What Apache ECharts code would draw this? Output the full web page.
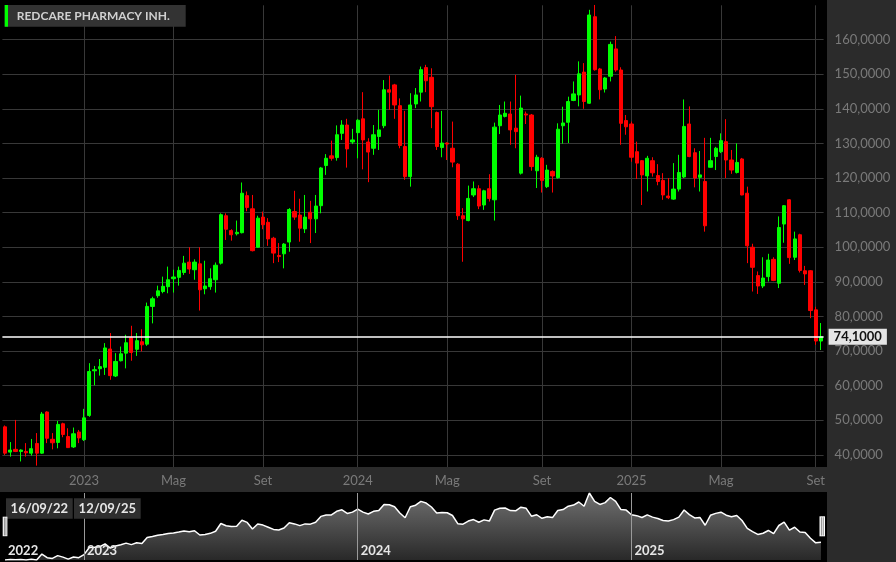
<!DOCTYPE html>
<html>
<head>
<meta charset="utf-8">
<script src="https://cdn.jsdelivr.net/npm/echarts@6/dist/echarts.min.js"></script>
<style>
  html, body { margin: 0; padding: 0; background: #000; }
  #chart { width: 896px; height: 562px; }
</style>
</head>
<body>
<div id="chart"></div>
<script>
// weekly candles, week ending friday
var firstFriday = Date.UTC(2022, 8, 23);
var monthNames = ['Gen', 'Feb', 'Mar', 'Apr', 'Mag', 'Giu', 'Lug', 'Ago', 'Set', 'Ott', 'Nov', 'Dic'];

var openV = [
  48.1, 40.8, 41.6, 41.0, 41.0, 40.5, 43.3, 40.5, 52.4, 44.5, 43.6, 49.0, 45.3, 42.3, 46.6, 44.4,
  51.4, 64.3, 64.9, 65.3, 70.6, 62.8, 67.2, 69.4, 73.9, 70.5, 72.7, 72.0, 82.9, 86.0, 87.2, 88.6,
  90.9, 91.3, 92.7, 95.7, 93.5, 95.2, 88.0, 88.6, 90.6, 95.4, 109.1, 104.8, 103.9, 104.2, 114.9, 111.1,
  100.0, 108.7, 107.2, 102.6, 97.6, 98.1, 101.5, 110.3, 109.3, 105.3, 110.1, 108.2, 112.0, 123.6, 126.4, 125.9,
  132.9, 135.3, 130.4, 133.1, 137.1, 130.4, 128.6, 132.0, 135.1, 145.5, 146.9, 140.9, 129.1, 120.4, 141.4, 144.8,
  151.9, 149.1, 138.9, 128.8, 130.1, 128.6, 124.0, 109.1, 107.7, 115.1, 116.9, 112.2, 116.9, 113.7, 135.1, 137.8,
  138.5, 134.4, 121.4, 138.5, 138.2, 122.1, 125.7, 117.5, 121.9, 120.1, 135.1, 136.1, 142.4, 144.0, 150.6, 141.6,
  166.6, 151.5, 145.7, 149.4, 157.3, 151.2, 136.6, 135.6, 127.6, 125.0, 120.6, 125.0, 120.7, 119.3, 114.8, 113.9,
  116.8, 120.3, 135.6, 127.3, 120.2, 119.0, 123.1, 126.2, 127.6, 130.5, 125.2, 121.6, 125.5, 115.6, 100.0, 91.8,
  88.8, 91.5, 96.5, 89.6, 106.7, 113.7, 97.1, 103.6, 93.2, 93.2, 81.9, 72.9
];
var closeV = [
  40.5, 41.4, 41.0, 41.4, 40.6, 41.8, 40.5, 51.8, 44.8, 43.5, 48.8, 45.9, 42.1, 46.1, 44.9, 50.7,
  64.1, 64.6, 65.5, 70.9, 62.9, 67.0, 69.2, 72.4, 69.6, 73.0, 71.8, 82.9, 85.1, 87.4, 88.7, 90.6,
  91.4, 93.3, 95.4, 93.7, 95.7, 87.7, 88.8, 90.9, 94.8, 109.4, 105.2, 103.6, 104.3, 115.6, 111.5, 99.0,
  108.4, 106.5, 102.4, 98.3, 97.3, 100.9, 110.9, 108.7, 105.5, 108.7, 108.2, 111.9, 122.9, 125.7, 125.7, 132.5,
  135.3, 128.4, 131.0, 136.7, 131.0, 127.5, 132.5, 133.9, 145.5, 144.8, 141.1, 129.4, 120.4, 141.1, 144.0, 151.3,
  148.1, 140.6, 129.1, 130.1, 129.8, 124.6, 109.1, 108.2, 114.1, 116.9, 111.9, 116.3, 114.1, 134.7, 138.2, 138.7,
  133.9, 133.4, 140.2, 138.2, 123.3, 126.0, 119.3, 122.3, 120.6, 134.1, 135.9, 142.1, 144.3, 150.1, 142.1, 167.1,
  151.3, 145.5, 148.9, 158.6, 151.2, 135.8, 134.8, 126.0, 124.3, 120.9, 125.7, 121.5, 119.0, 115.1, 114.3, 116.8,
  121.6, 134.9, 126.2, 120.0, 120.9, 106.2, 125.0, 128.6, 130.8, 125.2, 122.3, 124.5, 115.1, 100.4, 94.2, 88.8,
  91.1, 96.3, 90.4, 105.7, 112.0, 97.0, 102.4, 93.3, 92.3, 81.7, 72.9, 74.1
];
var lowV = [
  40.0, 39.5, 40.8, 38.1, 39.5, 39.8, 36.9, 40.3, 43.4, 41.6, 41.9, 45.1, 42.0, 42.0, 43.4, 44.0,
  51.0, 60.1, 62.9, 63.1, 61.7, 62.5, 67.0, 65.0, 67.2, 68.6, 69.9, 71.5, 78.0, 85.4, 86.7, 86.7,
  86.9, 88.9, 92.0, 92.3, 90.6, 81.7, 86.4, 87.7, 86.9, 95.0, 102.1, 101.9, 103.4, 104.0, 110.4, 98.8,
  99.8, 105.2, 100.4, 95.4, 95.7, 93.9, 98.7, 107.9, 101.6, 104.1, 101.2, 104.1, 109.8, 120.9, 125.0, 125.0,
  131.0, 123.0, 129.8, 125.7, 122.5, 118.8, 126.7, 128.1, 134.4, 139.7, 137.1, 128.6, 119.5, 117.5, 140.2, 142.1,
  144.8, 134.4, 128.1, 126.0, 125.2, 123.1, 107.9, 95.8, 107.5, 114.5, 111.0, 110.8, 113.2, 107.7, 132.7, 137.5,
  129.6, 128.6, 121.0, 135.6, 122.1, 117.1, 115.8, 117.1, 115.8, 119.8, 129.9, 130.1, 142.2, 140.7, 140.0, 141.4,
  151.0, 142.7, 144.7, 147.9, 150.7, 129.6, 132.5, 124.7, 119.7, 112.2, 116.1, 120.4, 117.9, 113.7, 113.9, 113.7,
  116.1, 120.0, 126.0, 117.3, 116.1, 104.5, 123.0, 122.3, 127.2, 120.0, 121.2, 121.3, 115.0, 95.4, 87.2, 86.5,
  88.2, 90.1, 90.2, 88.2, 101.3, 95.2, 96.3, 92.7, 89.1, 79.5, 71.8, 70.3
];
var highV = [
  48.5, 43.7, 50.1, 41.6, 43.4, 44.6, 46.3, 52.4, 52.6, 46.3, 49.8, 49.3, 47.7, 47.9, 47.2, 53.3,
  66.5, 65.7, 67.7, 72.3, 75.2, 69.4, 71.3, 74.7, 77.3, 75.2, 76.3, 84.0, 85.7, 88.9, 91.5, 94.4,
  93.5, 94.4, 97.5, 100.0, 96.5, 100.0, 96.1, 93.9, 95.6, 109.8, 109.8, 105.2, 107.7, 118.7, 116.1, 115.1,
  109.1, 110.3, 108.4, 103.0, 101.2, 101.2, 111.3, 116.3, 114.0, 115.1, 113.4, 115.1, 123.2, 126.9, 130.8, 135.2,
  136.7, 137.1, 134.2, 137.0, 144.8, 131.5, 135.3, 139.7, 148.3, 149.6, 147.2, 143.0, 139.4, 144.5, 146.0, 152.2,
  152.7, 151.7, 139.2, 139.4, 130.3, 136.3, 124.3, 111.3, 117.8, 119.0, 117.9, 116.6, 121.1, 136.0, 141.1, 142.1,
  142.1, 149.8, 143.8, 139.2, 138.5, 126.7, 126.0, 123.8, 122.2, 135.8, 140.6, 143.5, 147.9, 153.7, 153.2, 168.6,
  170.0, 151.8, 149.2, 159.4, 161.0, 152.0, 138.2, 136.3, 130.5, 125.2, 126.4, 126.0, 124.0, 121.4, 120.0, 124.3,
  126.7, 142.7, 140.7, 128.6, 127.8, 131.6, 131.6, 129.0, 132.9, 137.0, 128.1, 130.0, 125.8, 117.5, 101.0, 93.0,
  97.1, 98.1, 97.1, 108.9, 112.2, 113.9, 104.5, 103.9, 94.6, 93.4, 82.8, 78.1
];

var weeks = [];
for (var i = 0; i < closeV.length; i++) {
  weeks.push(new Date(firstFriday + i * 7 * 86400000).toISOString().slice(0, 10));
}
var candles = weeks.map(function (w, i) {
  return [openV[i], closeV[i], lowV[i], highV[i]];
});
var lastClose = closeV[closeV.length - 1];

function fmtPrice(v) {
  return v.toFixed(4).replace('.', ',');
}
// first week of jan / may / sep
function isMonthMark(i, v) {
  var m = +v.slice(5, 7), d = +v.slice(8, 10);
  return d <= 7 && (m === 1 || m === 5 || m === 9);
}
function isYearMark(i, v) {
  return +v.slice(5, 7) === 1 && +v.slice(8, 10) <= 7;
}

var up = '#00ff00', down = '#ff0000';
var gridColor = '#383838';
var panel = '#2b2b2b';

var myChart = echarts.init(document.getElementById('chart'));
var option = {
  backgroundColor: '#000',
  animation: false,
  grid: [
    { left: 2.4, right: 72.4, top: 5.3, bottom: 95 },
    { left: 2.4, right: 72.4, top: 493, bottom: 2 }
  ],
  xAxis: [
    {
      type: 'category',
      gridIndex: 0,
      data: weeks,
      axisLine: { show: false },
      axisTick: { show: false },
      axisLabel: {
        interval: isMonthMark,
        formatter: function (v) {
          var m = +v.slice(5, 7);
          return m === 1 ? v.slice(0, 4) : monthNames[m - 1];
        },
        color: '#7a7a7a',
        fontFamily: 'Lato',
        fontSize: 13,
        margin: 7
      },
      splitLine: {
        show: true,
        interval: isMonthMark,
        alignWithLabel: true,
        lineStyle: { color: gridColor, width: 1 }
      }
    },
    {
      type: 'category',
      gridIndex: 1,
      data: weeks,
      z: 5,
      axisLine: { show: false },
      axisTick: { show: false },
      axisLabel: {
        inside: true,
        interval: function (i, v) { return i === 0 || isYearMark(i, v); },
        formatter: function (v) { return v.slice(0, 4); },
        align: 'left',
        padding: [0, 0, 0, 3],
        color: '#e6e6e6',
        fontFamily: 'Lato',
        fontWeight: 'bold',
        fontSize: 13,
        margin: 3
      },
      splitLine: {
        show: true,
        interval: isYearMark,
        alignWithLabel: true,
        lineStyle: { color: '#9a9a9a', width: 1 }
      }
    }
  ],
  yAxis: [
    {
      type: 'value',
      gridIndex: 0,
      position: 'right',
      min: 36.5,
      max: 169.9,
      splitNumber: 13,
      axisLine: { show: false },
      axisTick: { show: false },
      axisLabel: {
        color: '#7a7a7a',
        fontFamily: 'Lato',
        fontSize: 13,
        margin: 11,
        showMinLabel: false,
        showMaxLabel: false,
        formatter: fmtPrice
      },
      splitLine: {
        showMinLine: false,
        showMaxLine: false,
        lineStyle: { color: gridColor, width: 1 }
      }
    },
    {
      type: 'value',
      gridIndex: 1,
      min: 'dataMin',
      max: 'dataMax',
      show: false
    }
  ],
  series: [
    {
      type: 'candlestick',
      xAxisIndex: 0,
      yAxisIndex: 0,
      data: candles,
      barWidth: 3.7,
      clip: false,
      itemStyle: {
        color: up,
        color0: down,
        borderColor: up,
        borderColor0: down,
        borderWidth: 1
      },
      markLine: {
        symbol: 'none',
        silent: true,
        lineStyle: { color: '#ffffff', width: 1.5, type: 'solid' },
        label: {
          position: 'end',
          distance: 5,
          formatter: fmtPrice(lastClose),
          backgroundColor: '#e4e4e4',
          color: '#111',
          fontFamily: 'Lato',
          fontWeight: 'bold',
          fontSize: 13,
          padding: [2, 5, 1, 5]
        },
        data: [{ yAxis: lastClose }]
      }
    },
    {
      type: 'line',
      xAxisIndex: 1,
      yAxisIndex: 1,
      data: closeV,
      symbol: 'none',
      silent: true,
      lineStyle: { color: '#ffffff', width: 1.5 },
      areaStyle: {
        color: new echarts.graphic.LinearGradient(0, 0, 0, 1, [
          { offset: 0, color: '#a0a0a0' },
          { offset: 1, color: '#3a3a3a' }
        ])
      }
    }
  ],
  graphic: [
    { type: 'rect', z: -1, shape: { x: 827, y: 0, width: 69, height: 562 }, style: { fill: panel } },
    { type: 'rect', z: -1, shape: { x: 0, y: 467, width: 896, height: 25 }, style: { fill: panel } },
    // title
    { type: 'rect', z: 10, shape: { x: 4.7, y: 5, width: 181, height: 21.7 }, style: { fill: '#333333' } },
    { type: 'rect', z: 11, shape: { x: 4.7, y: 5, width: 3.3, height: 21.7 }, style: { fill: up } },
    {
      type: 'text', z: 11, x: 16.7, y: 15.9,
      style: {
        text: 'REDCARE PHARMACY INH.', fill: '#d0d0d0',
        font: 'bold 12px Lato', verticalAlign: 'middle'
      }
    },
    // navigator range
    { type: 'rect', z: 10, shape: { x: 6, y: 498.3, width: 66.7, height: 20.4 }, style: { fill: '#2e2e2e' } },
    { type: 'rect', z: 10, shape: { x: 74, y: 498.3, width: 66.7, height: 20.4 }, style: { fill: '#2e2e2e' } },
    {
      type: 'text', z: 11, x: 39.3, y: 508.8,
      style: { text: '16/09/22', fill: '#e6e6e6', font: 'bold 13px Lato', align: 'center', verticalAlign: 'middle' }
    },
    {
      type: 'text', z: 11, x: 107.3, y: 508.8,
      style: { text: '12/09/25', fill: '#e6e6e6', font: 'bold 13px Lato', align: 'center', verticalAlign: 'middle' }
    },
    // handles
    { type: 'rect', z: 10, shape: { x: 2.7, y: 516.7, width: 4.7, height: 19.5 }, style: { fill: '#ffffff' } },
    { type: 'rect', z: 11, shape: { x: 3.9, y: 517.5, width: 0.7, height: 18 }, style: { fill: '#555' } },
    { type: 'rect', z: 11, shape: { x: 5.6, y: 517.5, width: 0.7, height: 18 }, style: { fill: '#555' } },
    { type: 'rect', z: 10, shape: { x: 819.5, y: 516.3, width: 5.5, height: 20 }, style: { fill: '#ffffff' } },
    { type: 'rect', z: 11, shape: { x: 820.9, y: 517.2, width: 0.7, height: 18.2 }, style: { fill: '#555' } },
    { type: 'rect', z: 11, shape: { x: 822.8, y: 517.2, width: 0.7, height: 18.2 }, style: { fill: '#555' } }
  ]
};
myChart.setOption(option);

window.addEventListener('resize', function () {
  myChart.resize();
});
</script>
</body>
</html>
